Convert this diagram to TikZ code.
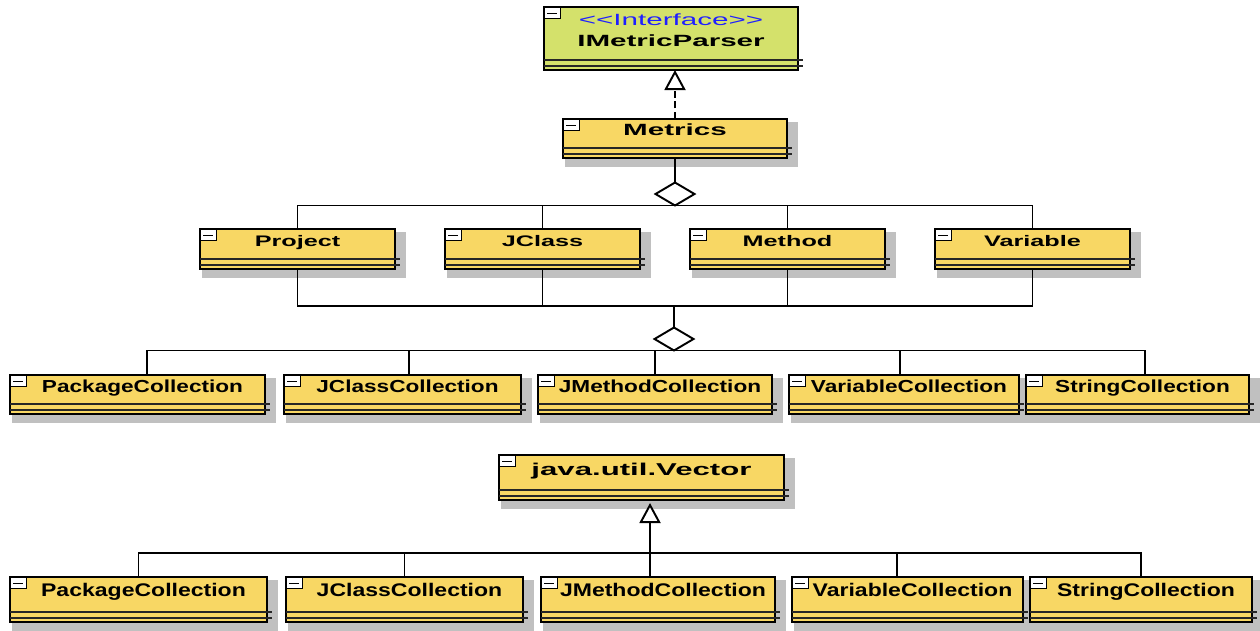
\documentclass[tikz,border=0pt]{standalone}
\usepackage{fontspec}
\setmainfont{Liberation Sans}
\newfontfamily\topface[FakeStretch=1.82]{Liberation Sans}
\newfontfamily\roleface[FakeStretch=1.65]{Liberation Sans}
\newfontfamily\itemface[FakeStretch=1.30]{Liberation Sans}
\newfontfamily\baseface[FakeStretch=1.26]{Liberation Sans}
\usetikzlibrary{arrows.meta, shapes.geometric}

\definecolor{classyellow}{HTML}{F8D764}
\definecolor{ifacegreen}{HTML}{D4E16B}
\definecolor{shadowgray}{HTML}{C0C0C0}
\definecolor{stereoblue}{HTML}{1F1FFF}

% class box: shadow, frame, two empty compartments and the fold icon
% #1 extra keys, #2 title style, #3 name, #4 left, #5 top, #6 right, #7 bottom, #8 title
\newcommand{\classbox}[8]{%
  \begin{scope}[#1]
    \fill[boxshadow] (#4+2,#5+3) rectangle (#6+11,#7+9);
    \node[umlclass, minimum width={(#6-#4)*0.02cm}, minimum height={(#7-#5)*0.02cm}] (#3) at ({(#4+#6)/2},{(#5+#7)/2}) {};
    \draw[compartment] (#4,#7-10) -- (#6+5,#7-10) (#4,#7-4) -- (#6+5,#7-4);
    \draw[foldicon] (#4,#5) rectangle (#4+16,#5+11) (#4+3,#5+6) -- (#4+13,#5+6);
    \node[#2] (#3-name) at (#3.north) {#8};
  \end{scope}}

\begin{document}
\begin{tikzpicture}[x=0.02cm, y=-0.02cm]
  \tikzset{%
    umlclass/.style={rectangle, draw=black, line width=1pt, fill=classyellow, inner sep=0pt, outer sep=0pt},
    boxshadow/.style={fill=shadowgray},
    compartment/.style={draw=black!85, line width=0.6pt},
    foldicon/.style={draw=black, line width=0.5pt, fill=white},
    link/.style={draw=black, line width=1.1pt},
    realize/.style={link, dash pattern=on 4pt off 2pt},
    hollowtip/.style={-{Triangle[fill=white, length=0.4cm, width=0.42cm]}},
    aggregate/.style={diamond, draw=black, line width=1.1pt, fill=white, inner sep=0pt, outer sep=0pt, minimum width=0.78cm, minimum height=0.46cm},
    stereo/.style={anchor=base, yshift=-0.36cm, text=stereoblue, font=\topface\fontsize{9.25}{11}\selectfont},
    ifacename/.style={anchor=base, yshift=-0.79cm, font=\topface\bfseries\fontsize{9.25}{11}\selectfont},
    metricsname/.style={anchor=base, yshift=-0.32cm, font=\topface\bfseries\fontsize{9.25}{11}\selectfont},
    rolename/.style={anchor=base, yshift=-0.34cm, font=\roleface\bfseries\fontsize{8.7}{10}\selectfont},
    listname/.style={anchor=base, xshift=0.1cm, yshift=-0.35cm, font=\itemface\bfseries\fontsize{9.9}{11}\selectfont},
    vectorname/.style={anchor=base, yshift=-0.40cm, font=\topface\bfseries\fontsize{9.75}{11}\selectfont},
    vecname/.style={anchor=base, xshift=0.1cm, yshift=-0.39cm, font=\baseface\bfseries\fontsize{10.4}{12}\selectfont}
  }
  \useasboundingbox (0,0) rectangle (1260,630);

  % interface and its implementation
  \classbox{umlclass/.append style={fill=ifacegreen}, boxshadow/.style={fill=none}}{ifacename}{parser}{544}{7}{798}{70}{IMetricParser}
  \node[stereo] (parser-stereo) at (parser.north) {<\kern0pt<Interface>\kern0pt>};
  \classbox{}{metricsname}{metrics}{563}{119}{787}{158}{Metrics}

  % metric owners
  \classbox{}{rolename}{project}{200}{229}{395}{269}{Project}
  \classbox{}{rolename}{jclass}{445}{229}{640}{269}{JClass}
  \classbox{}{rolename}{method}{690}{229}{885}{269}{Method}
  \classbox{}{rolename}{variable}{935}{229}{1130}{269}{Variable}

  % collections they hold
  \classbox{}{listname}{pkglist}{10}{375}{265}{414}{PackageCollection}
  \classbox{}{listname}{classlist}{284}{375}{521}{414}{JClassCollection}
  \classbox{}{listname}{methodlist}{538}{375}{772}{414}{JMethodCollection}
  \classbox{}{listname}{varlist}{789}{375}{1019}{414}{VariableCollection}
  \classbox{}{listname}{strlist}{1026}{375}{1249}{414}{StringCollection}

  % collections as subclasses of Vector
  \classbox{}{vectorname}{vector}{499}{455}{784}{500}{java.util.Vector}
  \classbox{}{vecname}{pkgvec}{10}{577}{267}{622}{PackageCollection}
  \classbox{}{vecname}{classvec}{286}{577}{523}{622}{JClassCollection}
  \classbox{}{vecname}{methodvec}{541}{577}{775}{622}{JMethodCollection}
  \classbox{}{vecname}{varvec}{792}{577}{1023}{622}{VariableCollection}
  \classbox{}{vecname}{strvec}{1030}{577}{1252}{622}{StringCollection}

  % realization
  \draw[realize, hollowtip] (metrics.north) -- (metrics.north |- parser.south);

  % Metrics aggregates the owners
  \node[aggregate] (hasrole) at (675,194) {};
  \draw[link] (metrics.south) -- (hasrole.north);
  \draw[link] (project.north) |- (hasrole.south) -| (variable.north);
  \draw[link] (jclass.north) -- (jclass.north |- hasrole.south);
  \draw[link] (method.north) -- (method.north |- hasrole.south);

  % owners aggregate the collections
  \coordinate (rolejoin) at (674,306);
  \node[aggregate] (hasitem) at (674,339) {};
  \draw[link] (project.south) |- (rolejoin) -| (variable.south);
  \draw[link] (jclass.south) -- (jclass.south |- rolejoin);
  \draw[link] (method.south) -- (method.south |- rolejoin);
  \draw[link] (rolejoin) -- (hasitem.north);
  \draw[link] ([xshift=0.19cm]pkglist.north) |- (hasitem.south) -| ([xshift=0.15cm]strlist.north);
  \draw[link] ([xshift=0.13cm]classlist.north) -- ([xshift=0.13cm]classlist.north |- hasitem.south);
  \draw[link] (methodlist.north) -- (methodlist.north |- hasitem.south);
  \draw[link] ([xshift=-0.08cm]varlist.north) -- ([xshift=-0.08cm]varlist.north |- hasitem.south);

  % generalization
  \coordinate (vecjoin) at (650,553);
  \draw[link, hollowtip, shorten >=0.06cm] (vecjoin) -- ([xshift=0.17cm]vector.south);
  \draw[link] (pkgvec.north) |- (vecjoin) -| (strvec.north);
  \draw[link] (classvec.north) -- (classvec.north |- vecjoin);
  \draw[link] ([xshift=-0.16cm]methodvec.north) -- ([xshift=-0.16cm]methodvec.north |- vecjoin);
  \draw[link] ([xshift=-0.21cm]varvec.north) -- ([xshift=-0.21cm]varvec.north |- vecjoin);
\end{tikzpicture}
\end{document}
